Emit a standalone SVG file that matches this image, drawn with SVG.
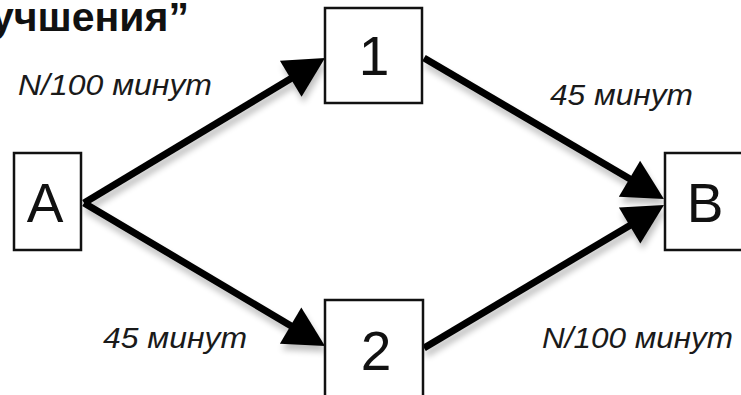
<svg xmlns="http://www.w3.org/2000/svg" width="741" height="395" viewBox="0 0 741 395">
  <style>
    .box { fill: #ffffff; stroke: #111111; stroke-width: 2.5; }
    .node-label { font-family: "Liberation Sans", Arial, sans-serif; font-size: 55px; fill: #111111; text-anchor: middle; }
    .edge { stroke: #000000; stroke-width: 7; fill: none; marker-end: url(#head); }
    .time { font-family: "Liberation Sans", Arial, sans-serif; font-size: 29px; font-style: italic; fill: #1a1a1a; }
    .title { font-family: "Liberation Sans", Arial, sans-serif; font-size: 41px; font-weight: bold; fill: #111111; }
  </style>
  <defs>
    <marker id="head" markerUnits="userSpaceOnUse" markerWidth="44" markerHeight="42" refX="10" refY="21" orient="auto" overflow="visible">
      <path d="M0,0 L40,21 L0,42 z" fill="#000000"/>
    </marker>
    <filter id="soft-shadow" x="-10%" y="-10%" width="120%" height="130%">
      <feGaussianBlur in="SourceAlpha" stdDeviation="3"/>
      <feOffset dx="2" dy="6" result="blur"/>
      <feComponentTransfer><feFuncA type="linear" slope="0.25"/></feComponentTransfer>
      <feMerge><feMergeNode/><feMergeNode in="SourceGraphic"/></feMerge>
    </filter>
  </defs>

  <rect width="741" height="395" fill="#ffffff"/>

  <text class="title" x="-9" y="31">учшения”</text>

  <!-- connectors: each line stops 30px short of its tip, the marker covers the rest -->
  <g id="connectors" filter="url(#soft-shadow)">
    <line class="edge" x1="84" y1="203" x2="299.3" y2="73.5"/>
    <line class="edge" x1="84" y1="203" x2="299.2" y2="330.7"/>
    <line class="edge" x1="424" y1="58" x2="638.1" y2="183.8"/>
    <line class="edge" x1="424" y1="348" x2="638.2" y2="220.4"/>
  </g>

  <!-- edge times -->
  <text class="time" x="18" y="95" textLength="194" lengthAdjust="spacingAndGlyphs">N/100 минут</text>
  <text class="time" x="550" y="105" textLength="143" lengthAdjust="spacingAndGlyphs">45 минут</text>
  <text class="time" x="103" y="348" textLength="144" lengthAdjust="spacingAndGlyphs">45 минут</text>
  <text class="time" x="542" y="348" textLength="191" lengthAdjust="spacingAndGlyphs">N/100 минут</text>

  <!-- nodes -->
  <g id="node-A">
    <rect class="box" x="14" y="153" width="67" height="97"/>
    <text class="node-label" x="45" y="222">A</text>
  </g>
  <g id="node-1">
    <rect class="box" x="325" y="8" width="97" height="95"/>
    <text class="node-label" x="374" y="75">1</text>
  </g>
  <g id="node-2">
    <rect class="box" x="325" y="300" width="98" height="100"/>
    <text class="node-label" x="376" y="370">2</text>
  </g>
  <g id="node-B">
    <rect class="box" x="665" y="153" width="82" height="97"/>
    <text class="node-label" x="705" y="222">B</text>
  </g>
</svg>
